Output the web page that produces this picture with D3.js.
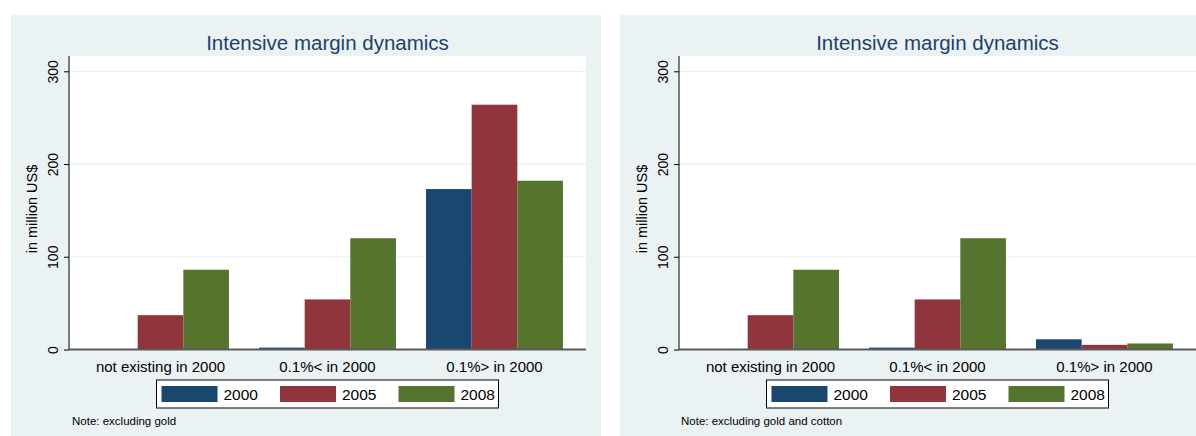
<!DOCTYPE html>
<html><head><meta charset="utf-8">
<script src="https://cdn.jsdelivr.net/npm/d3@7"></script>
<style>body{margin:0;background:#fff;font-family:"Liberation Sans",Arial,sans-serif}</style>
</head><body><svg id="c" width="1196" height="436"></svg>
<script>
const categories = ["not existing in 2000", "0.1%< in 2000", "0.1%> in 2000"];
const seriesNames = ["2000", "2005", "2008"];
const colors = ["#1a476f", "#90353b", "#55752f"];
const yTicks = [0, 100, 200, 300];
// left panel: excluding gold
const left2000 = [0, 2, 173];
const left2005 = [37, 54, 264];
const left2008 = [86, 120, 182];
// right panel: excluding gold and cotton
const right2000 = [0, 2, 11];
const right2005 = [37, 54, 5];
const right2008 = [86, 120, 6.5];

const panels = [
  {bx: 11, bw: 590, ax: 69, ar: 586, note: "Note: excluding gold", vals: [left2000, left2005, left2008]},
  {bx: 620, bw: 576, ax: 679, ar: 1196, note: "Note: excluding gold and cotton", vals: [right2000, right2005, right2008]}
];
const svg = d3.select("#c");
const plotTop = 56, plotBottom = 350;
const y = d3.scaleLinear().domain([0, 300]).range([349.5, 71.3]);

panels.forEach(p => {
  const g = svg.append("g");
  g.append("rect").attr("x", p.bx).attr("y", 15).attr("width", p.bw).attr("height", 436 - 15).attr("fill", "#eaf2f3");
  g.append("rect").attr("x", p.ax).attr("y", plotTop).attr("width", p.ar - p.ax).attr("height", plotBottom - plotTop).attr("fill", "#fff");
  const cx = (p.ax + p.ar) / 2;
  g.append("text").attr("x", cx).attr("y", 50).attr("text-anchor", "middle")
    .attr("font-size", 20.5).attr("fill", "#1e3f6e").text("Intensive margin dynamics");
  g.selectAll(".grid").data(yTicks.filter(t => t > 0)).join("line")
    .attr("x1", p.ax).attr("x2", p.ar).attr("y1", d => y(d)).attr("y2", d => y(d))
    .attr("stroke", "#eaf2f3").attr("stroke-width", 1.2);
  const x0 = d3.scaleBand().domain(categories).range([p.ax, p.ar]).paddingInner(0.18).paddingOuter(0.138);
  const x1 = d3.scaleBand().domain(seriesNames).range([0, x0.bandwidth()]);
  categories.forEach((c, ci) => {
    seriesNames.forEach((s, si) => {
      const v = p.vals[si][ci];
      if (v <= 0) return;
      g.append("rect").attr("x", x0(c) + x1(s)).attr("y", y(v)).attr("width", x1.bandwidth())
        .attr("height", y(0) - y(v)).attr("fill", colors[si]);
    });
  });
  const ya = d3.axisLeft(y).tickValues(yTicks).tickSize(5).tickFormat(d3.format("d"));
  const yg = g.append("g").attr("transform", `translate(${p.ax},0)`).call(ya);
  yg.select(".domain").attr("d", `M0,${plotTop}V${plotBottom}`).attr("stroke", "#000");
  yg.selectAll(".tick line").attr("stroke", "#000");
  yg.selectAll(".tick text").attr("font-size", 14).attr("fill", "#000")
    .attr("font-family", "'Liberation Sans',Arial,sans-serif")
    .attr("text-anchor", "middle").attr("x", 0).attr("y", 0).attr("dy", null)
    .attr("transform", "translate(-11,0) rotate(-90)");
  g.append("text").attr("transform", `translate(${p.ax - 32},209) rotate(-90)`).attr("text-anchor", "middle")
    .attr("font-size", 14.5).attr("fill", "#000").text("in million US$");
  g.append("line").attr("x1", p.ax).attr("x2", p.ar).attr("y1", y(0)).attr("y2", y(0))
    .attr("stroke", "#5a5a5a").attr("stroke-width", 2);
  const xa = d3.axisBottom(x0).tickSize(0).tickPadding(0);
  const xg = g.append("g").attr("transform", `translate(0,${y(0)})`).call(xa);
  xg.select(".domain").remove();
  xg.selectAll(".tick text").attr("font-size", 15).attr("fill", "#000")
    .attr("font-family", "'Liberation Sans',Arial,sans-serif").attr("y", 22).attr("dy", 0);
  const lx = cx - 171, ly = 380;
  g.append("rect").attr("x", lx).attr("y", ly).attr("width", 342).attr("height", 28)
    .attr("fill", "#fff").attr("stroke", "#000").attr("stroke-width", 1);
  seriesNames.forEach((s, i) => {
    const sx = lx + 5 + i * 118.5;
    g.append("rect").attr("x", sx).attr("y", ly + 6).attr("width", 56).attr("height", 16).attr("fill", colors[i]);
    g.append("text").attr("x", sx + 62).attr("y", ly + 20).attr("font-size", 15.5).attr("fill", "#000").text(s);
  });
  g.append("text").attr("x", p.bx + 61).attr("y", 425).attr("font-size", 11.5).attr("fill", "#000").text(p.note);
});
</script></body></html>
